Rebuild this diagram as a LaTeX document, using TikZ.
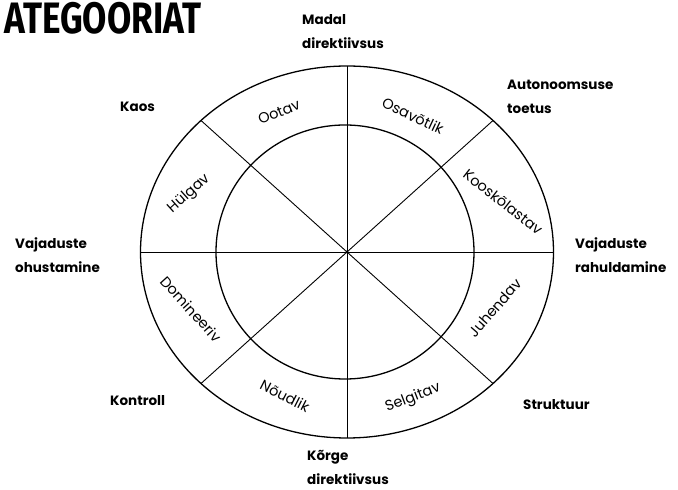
\documentclass[tikz,border=0pt]{standalone}
\usepackage{fontspec}
\setmainfont{Poppins}
\newfontfamily\titlefont[FakeStretch=0.8]{Fira Sans}
\usetikzlibrary{positioning,calc}

\begin{document}
\begin{tikzpicture}[
  x=1pt, y=1pt,
  axislabel/.style={font=\bfseries\fontsize{13.5}{24}\selectfont, align=left, anchor=west, inner sep=0pt},
  ringlabel/.style={font=\fontsize{14.5}{16}\selectfont, inner sep=0pt},
  wheel/.style={line width=1.3pt},
  spoke/.style={line width=0.9pt}
]
\useasboundingbox (0,0) rectangle (678,490);

\coordinate (c) at (347,238);

% wheel
\draw[wheel] (c) ellipse [x radius=206.5, y radius=186];
\draw[wheel] ($(c)+(-2,0)$) ellipse [x radius=129, y radius=127];
\foreach \a in {0,45,90,135}
  \draw[spoke] ($(c)+(\a:206.5 and 186)$) -- ($(c)+(\a+180:206.5 and 186)$);
\fill (c) circle (1.5);

% title
\node[anchor=west, inner sep=0pt, font=\titlefont\bfseries\fontsize{44}{44}\selectfont] (title) at (4,472) {ATEGOORIAT};

% axis labels
\node[axislabel] (madal) at (302,458.5) {Madal\\direktiivsus};
\node[axislabel] (auto) at (507,393.5) {Autonoomsuse\\toetus};
\node[axislabel] (kaos) at (120,383) {Kaos};
\node[axislabel] (ohus) at (15,234.5) {Vajaduste\\ohustamine};
\node[axislabel] (rahul) at (575,234.5) {Vajaduste\\rahuldamine};
\node[axislabel] (kontr) at (110,89) {Kontroll};
\node[axislabel] (strukt) at (523,85) {Struktuur};
\node[axislabel] (korge) at (307,23) {Kõrge\\direktiivsus};

% ring labels
\node[ringlabel, rotate=22] (ootav) at (279,378) {Ootav};
\node[ringlabel, rotate=-25] (osav) at (413,374) {Osavõtlik};
\node[ringlabel, rotate=-38] (koos) at (503,288) {Kooskõlastav};
\node[ringlabel, rotate=49] (juh) at (495,182) {Juhendav};
\node[ringlabel, rotate=21] (selg) at (413,92) {Selgitav};
\node[ringlabel, rotate=-27] (noud) at (285,94) {Nõudlik};
\node[ringlabel, rotate=-48] (dom) at (191,181) {Domineeriv};
\node[ringlabel, rotate=42] (hulg) at (189,296) {Hülgav};
\end{tikzpicture}
\end{document}
